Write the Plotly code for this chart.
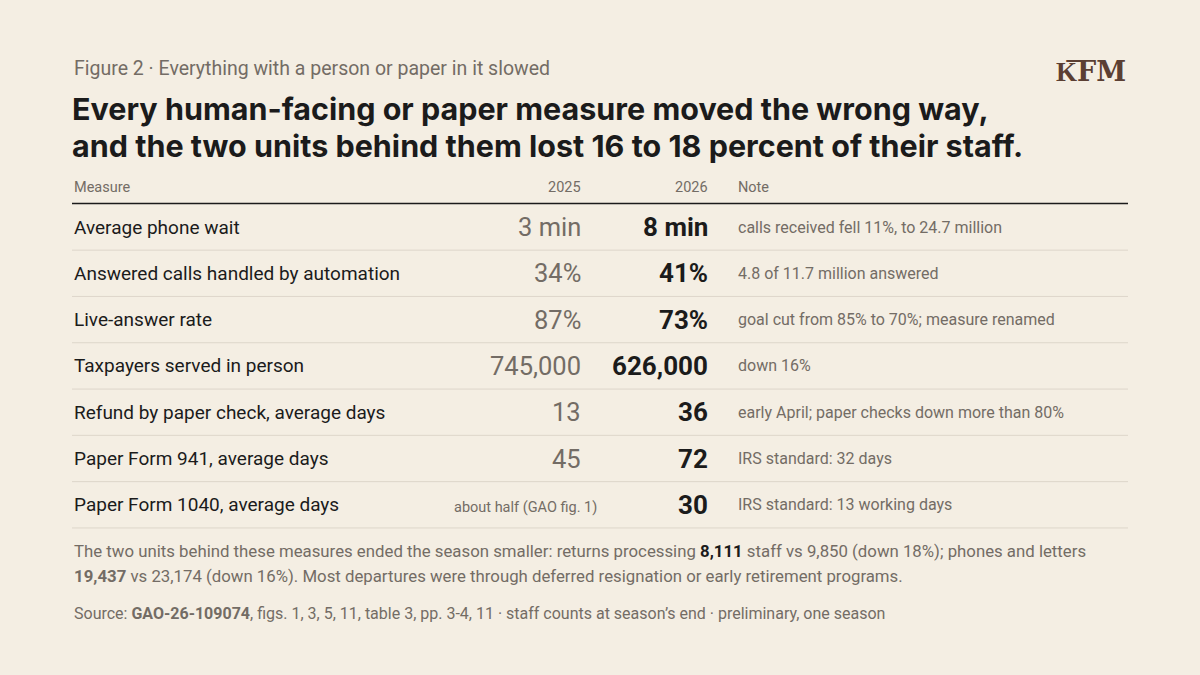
import plotly.graph_objects as go

measures = ["Average phone wait", "Answered calls handled by automation", "Live-answer rate",
            "Taxpayers served in person", "Refund by paper check, average days",
            "Paper Form 941, average days", "Paper Form 1040, average days"]
v2025 = ["3 min", "34%", "87%", "745,000", "13", "45", "about half (GAO fig. 1)"]
v2026 = ["8 min", "41%", "73%", "626,000", "36", "72", "30"]
notes = ["calls received fell 11%, to 24.7 million", "4.8 of 11.7 million answered",
         "goal cut from 85% to 70%; measure renamed", "down 16%",
         "early April; paper checks down more than 80%", "IRS standard: 32 days",
         "IRS standard: 13 working days"]
headers = ["Measure", "2025", "2026", "Note"]

BG = "#f4eee3"; DARK = "#1b1b1b"; GRAY = "#736c65"; FONT = "Roboto"
fig = go.Figure()
ann = []
def T(x, y, s, size, color=DARK, xa="left", bold=False, font=FONT):
    ann.append(dict(x=x, y=y, xref="x", yref="y", text=(f"<b>{s}</b>" if bold else s),
                    showarrow=False, xanchor=xa, yanchor="middle",
                    font=dict(size=size, color=color, family=font)))

T(72, 68, "Figure 2 · Everything with a person or paper in it slowed", 19.5, GRAY)
T(70, 108, "Every human-facing or paper measure moved the wrong way,", 30.5, DARK, bold=True, font="Inter")
T(70, 145, "and the two units behind them lost 16 to 18 percent of their staff.", 30.5, DARK, bold=True, font="Inter")
T(1091, 71, "<b>K͞FM</b>", 27, "#5b3f33", xa="center", font="DejaVu Serif")

hx = [(72, "left"), (583, "right"), (710, "right"), (736, "left")]
for (x, a), h in zip(hx, headers):
    T(x, 187, h, 14.5, GRAY, xa=a)
shapes = [dict(type="line", xref="x", yref="y", x0=72, x1=1128, y0=203.5, y1=203.5,
               line=dict(color=DARK, width=1.3))]
step = 46.3
for i, m in enumerate(measures):
    y = 227 + i * step
    T(72, y, m, 19, DARK)
    if len(v2025[i]) > 10:
        T(599, y + 3, v2025[i], 14.5, GRAY, xa="right")
    else:
        T(583, y, v2025[i], 25.5, GRAY, xa="right")
    T(710, y, v2026[i], 26, DARK, xa="right", bold=True)
    T(736, y, notes[i], 16, GRAY)
    yl = y + step / 2
    shapes.append(dict(type="line", xref="x", yref="y", x0=72, x1=1128, y0=yl, y1=yl,
                       line=dict(color="#ddd6ca", width=1)))

T(72, 551, "The two units behind these measures ended the season smaller: returns processing <b style='color:#1b1b1b'>8,111</b> staff vs 9,850 (down 18%); phones and letters", 16.8, GRAY)
T(72, 576, "<b>19,437</b> vs 23,174 (down 16%). Most departures were through deferred resignation or early retirement programs.", 16.8, GRAY)
T(72, 613, "Source: <b>GAO-26-109074</b>, figs. 1, 3, 5, 11, table 3, pp. 3-4, 11 · staff counts at season’s end · preliminary, one season", 16, GRAY)

fig.update_layout(width=1200, height=675, paper_bgcolor=BG, plot_bgcolor=BG,
                  margin=dict(l=0, r=0, t=0, b=0), annotations=ann, shapes=shapes,
                  xaxis=dict(range=[0, 1200], visible=False, fixedrange=True),
                  yaxis=dict(range=[675, 0], visible=False, fixedrange=True),
                  showlegend=False)
fig.write_html("out.html", config={"displayModeBar": False})
with open("out.html", encoding="utf-8") as f:
    html = f.read()
html = html.replace("<head>", "<head><style>html,body{margin:0;padding:0;background:#f4eee3;overflow:hidden}</style>", 1)
with open("out.html", "w", encoding="utf-8") as f:
    f.write(html)
